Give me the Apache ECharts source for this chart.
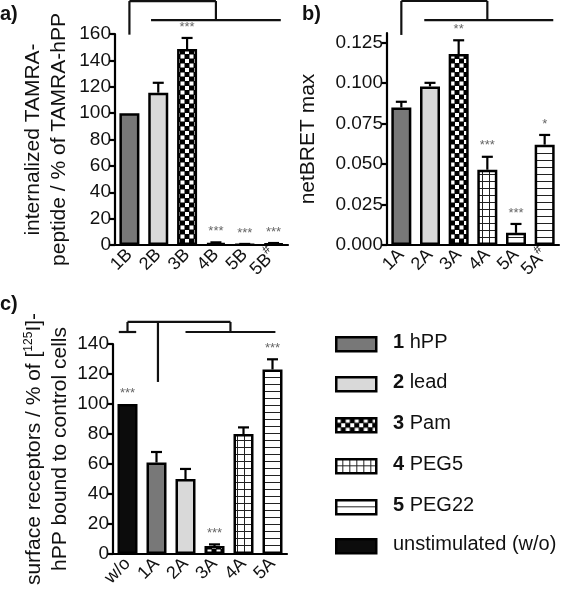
<!DOCTYPE html>
<html><head><meta charset="utf-8">
<script src="https://cdn.jsdelivr.net/npm/echarts@6/dist/echarts.min.js"></script>
<style>html,body{margin:0;padding:0;background:#fff}#c{width:563px;height:600px}</style>
</head><body><div id="c"></div>
<script>
// ---------- data ----------
const catsA = ['1B', '2B', '3B', '4B', '5B', '5B#'];
const valsA = [100, 115.5, 148.6, 1.5, 0.5, 1.0];
const errA = [0, 7.5, 8.4, 0.5, 0.3, 0.5];
const starsA = ['', '', '***', '***', '***', '***'];
const kindA = [1, 2, 3, 4, 5, 5];

const catsB = ['1A', '2A', '3A', '4A', '5A', '5A#'];
const valsB = [0.085, 0.098, 0.118, 0.0465, 0.0075, 0.062];
const errB = [0.0035, 0.0022, 0.0085, 0.008, 0.0055, 0.006];
const starsB = ['', '', '**', '***', '***', '*'];
const kindB = [1, 2, 3, 4, 5, 5];

const catsC = ['w/o', '1A', '2A', '3A', '4A', '5A'];
const valsC = [100, 61, 50, 5.3, 80, 123];
const errC = [0, 7, 6.7, 1.1, 4.4, 6.8];
const starsC = ['***', '', '', '***', '', '***'];
const kindC = [0, 1, 2, 3, 4, 5];

const ticksA = [0, 20, 40, 60, 80, 100, 120, 140, 160];
const ticksB = [0, 0.025, 0.05, 0.075, 0.1, 0.125];
const ticksC = [0, 20, 40, 60, 80, 100, 120, 140];

const legendNum = ['1', '2', '3', '4', '5', ''];
const legendText = ['hPP', 'lead', 'Pam', 'PEG5', 'PEG22', 'unstimulated (w/o)'];
const legendKind = [1, 2, 3, 4, 5, 0];

// significance brackets: [catFrom, levelFrom, catTo, levelTo] (levels in axis units)
const bracketsA = [[0, 185, 3, 185], [0, 185, 0, 159.5], [3, 185, 3, 170.5], [0.75, 170.5, 5.25, 170.5]];
const bracketsB = [[0, 0.1508, 3, 0.1508], [0, 0.1508, 0, 0.1298], [3, 0.1508, 3, 0.139], [0.8, 0.139, 5.3, 0.139]];
const bracketsC = [[0, 154.7, 3.55, 154.7], [0, 154.7, 0, 148], [-0.3, 148, 0.3, 148], [1.05, 154.7, 1.05, 114.7], [3.55, 154.7, 3.55, 148], [2.0, 148, 5.1, 148]];

// ---------- patterns ----------
function mkPattern(kind) {
  const c = document.createElement('canvas');
  const g = c.getContext('2d');
  if (kind === 3) {
    c.width = 9; c.height = 9;
    g.fillStyle = '#000'; g.fillRect(0, 0, 9, 9);
    g.fillStyle = '#fff'; g.fillRect(0.5, 0.5, 4, 4); g.fillRect(5, 5, 4, 4);
  } else if (kind === 4) {
    c.width = 7; c.height = 7;
    g.fillStyle = '#fff'; g.fillRect(0, 0, 7, 7);
    g.fillStyle = '#222'; g.fillRect(0, 6, 7, 1.3); g.fillRect(6, 0, 1.3, 7);
  } else {
    c.width = 7; c.height = 7;
    g.fillStyle = '#fff'; g.fillRect(0, 0, 7, 7);
    g.fillStyle = '#222'; g.fillRect(0, 6, 7, 1.3);
  }
  return { image: c, repeat: 'repeat' };
}
const fills = {
  0: '#0c0c0c',
  1: '#787878',
  2: '#d9d9d9',
  3: mkPattern(3),
  4: mkPattern(4),
  5: mkPattern(5)
};

const FONT = 'Liberation Sans, Arial, sans-serif';
const chart = echarts.init(document.getElementById('c'), null, { renderer: 'canvas' });

function xAxis(cats, gi) {
  return {
    type: 'category', gridIndex: gi, data: cats,
    axisLine: { lineStyle: { color: '#000', width: 2.2 } },
    axisTick: { alignWithLabel: true, length: 10, lineStyle: { color: '#000', width: 2.2 } },
    axisLabel: {
      rotate: 45, margin: 7, fontSize: 18, color: '#111', fontFamily: FONT, interval: 0,
      formatter: v => v.endsWith('#') ? v.slice(0, -1) + '{sup|#}' : v,
      rich: { sup: { fontSize: 12, color: '#111', fontFamily: FONT, padding: [0, 0, 13, 0] } }
    }
  };
}
function yAxis(gi, max, ticks, fmt, name, gap) {
  return {
    type: 'value', gridIndex: gi, min: 0, max: max,
    splitLine: { show: false },
    axisLine: { show: true, lineStyle: { color: '#000', width: 2.2 } },
    axisTick: { show: true, length: 5, lineStyle: { color: '#000', width: 2.2 }, customValues: ticks },
    axisLabel: { fontSize: 19, color: '#111', fontFamily: FONT, margin: 4, customValues: ticks, formatter: fmt },
    name: name, nameLocation: 'middle', nameRotate: 90, nameGap: gap,
    nameTextStyle: {
      fontSize: 21, color: '#111', fontFamily: FONT, lineHeight: 26, align: 'center',
      rich: { sup: { fontSize: 12, color: '#111', fontFamily: FONT, padding: [0, 0, 10, 0] } }
    }
  };
}
function bars(gi, vals, kinds) {
  return {
    type: 'bar', xAxisIndex: gi, yAxisIndex: gi, barWidth: 20, z: 2,
    data: vals.map((v, i) => ({ value: v, itemStyle: { color: fills[kinds[i]] } })),
    itemStyle: { borderColor: '#000', borderWidth: 2.5 }
  };
}
function errs(gi, vals, err) {
  return {
    type: 'custom', xAxisIndex: gi, yAxisIndex: gi, z: 3,
    data: vals.map((v, i) => [i, v, err[i]]),
    renderItem: function (params, api) {
      const i = api.value(0), v = api.value(1), e = api.value(2);
      if (!e) return null;
      const b = api.coord([i, v]), t = api.coord([i, v + e]);
      return {
        type: 'group', children: [
          { type: 'line', shape: { x1: b[0], y1: b[1], x2: t[0], y2: t[1] }, style: { stroke: '#000', lineWidth: 2.2 } },
          { type: 'line', shape: { x1: t[0] - 5.5, y1: t[1], x2: t[0] + 5.5, y2: t[1] }, style: { stroke: '#000', lineWidth: 2.2 } }
        ]
      };
    }
  };
}
function stars(gi, vals, err, st, off) {
  return {
    type: 'custom', xAxisIndex: gi, yAxisIndex: gi, z: 4, clip: false,
    data: vals.map((v, i) => [i, v + err[i]]),
    renderItem: function (params, api) {
      const s = st[params.dataIndex];
      if (!s) return null;
      const p = api.coord([api.value(0), api.value(1)]);
      return { type: 'text', x: p[0], y: p[1] - off, style: { text: s, fontSize: 13, fill: '#666', fontFamily: FONT, align: 'center', verticalAlign: 'middle' } };
    }
  };
}
function brackets(gi, segs) {
  return {
    type: 'custom', xAxisIndex: gi, yAxisIndex: gi, z: 5, clip: false, silent: true,
    data: segs.map(() => [0, 0]),
    renderItem: function (params, api) {
      const s = segs[params.dataIndex];
      const bw = api.size([1, 0])[0];
      const x0 = api.coord([0, 0])[0];
      const xa = x0 + s[0] * bw, xb = x0 + s[2] * bw;
      const ya = api.coord([0, s[1]])[1], yb = api.coord([0, s[3]])[1];
      return { type: 'line', shape: { x1: xa, y1: ya, x2: xb, y2: yb }, style: { stroke: '#111', lineWidth: 2.2 } };
    }
  };
}

// legend graphics
const legendG = [];
const legY = [343, 383, 424, 465, 506, 545];
legendText.forEach((t, i) => {
  legendG.push({ type: 'rect', left: 335, top: legY[i] - 7, shape: { width: 40, height: 14 }, style: { fill: fills[legendKind[i]], stroke: '#000', lineWidth: 2.5 } });
  legendG.push({
    type: 'text', left: 393, top: legY[i] - 11,
    style: {
      text: legendNum[i] ? '{b|' + legendNum[i] + '} ' + t : t,
      fontSize: 20, fill: '#111', fontFamily: FONT,
      rich: { b: { fontSize: 20, fontWeight: 'bold', fill: '#111', fontFamily: FONT } }
    }
  });
});
const panelLbl = [['a)', 0, 4], ['b)', 302, 4], ['c)', 0, 294]].map(p => ({
  type: 'text', left: p[1], top: p[2], style: { text: p[0], fontSize: 20, fontWeight: 'bold', fill: '#111', fontFamily: FONT }
}));

chart.setOption({
  animation: false,
  backgroundColor: '#fff',
  grid: [
    { left: 115, top: 34, width: 173, height: 211 },
    { left: 387, top: 33, width: 172, height: 212 },
    { left: 113, top: 344, width: 174, height: 210 }
  ],
  xAxis: [xAxis(catsA, 0), xAxis(catsB, 1), xAxis(catsC, 2)],
  yAxis: [
    yAxis(0, 160, ticksA, v => String(v), 'internalized TAMRA-\npeptide / % of TAMRA-hPP', 43),
    yAxis(1, 0.131, ticksB, v => v.toFixed(3), 'netBRET max', 66),
    yAxis(2, 140, ticksC, v => String(v), 'surface receptors / % of [{sup|125}I]-\nhPP bound to control cells', 40)
  ],
  series: [
    bars(0, valsA, kindA), errs(0, valsA, errA), stars(0, valsA, errA, starsA, 11), brackets(0, bracketsA),
    bars(1, valsB, kindB), errs(1, valsB, errB), stars(1, valsB, errB, starsB, 11), brackets(1, bracketsB),
    bars(2, valsC, kindC), errs(2, valsC, errC), stars(2, valsC, errC, starsC, 11), brackets(2, bracketsC)
  ],
  graphic: legendG.concat(panelLbl)
});
</script>
</body></html>
